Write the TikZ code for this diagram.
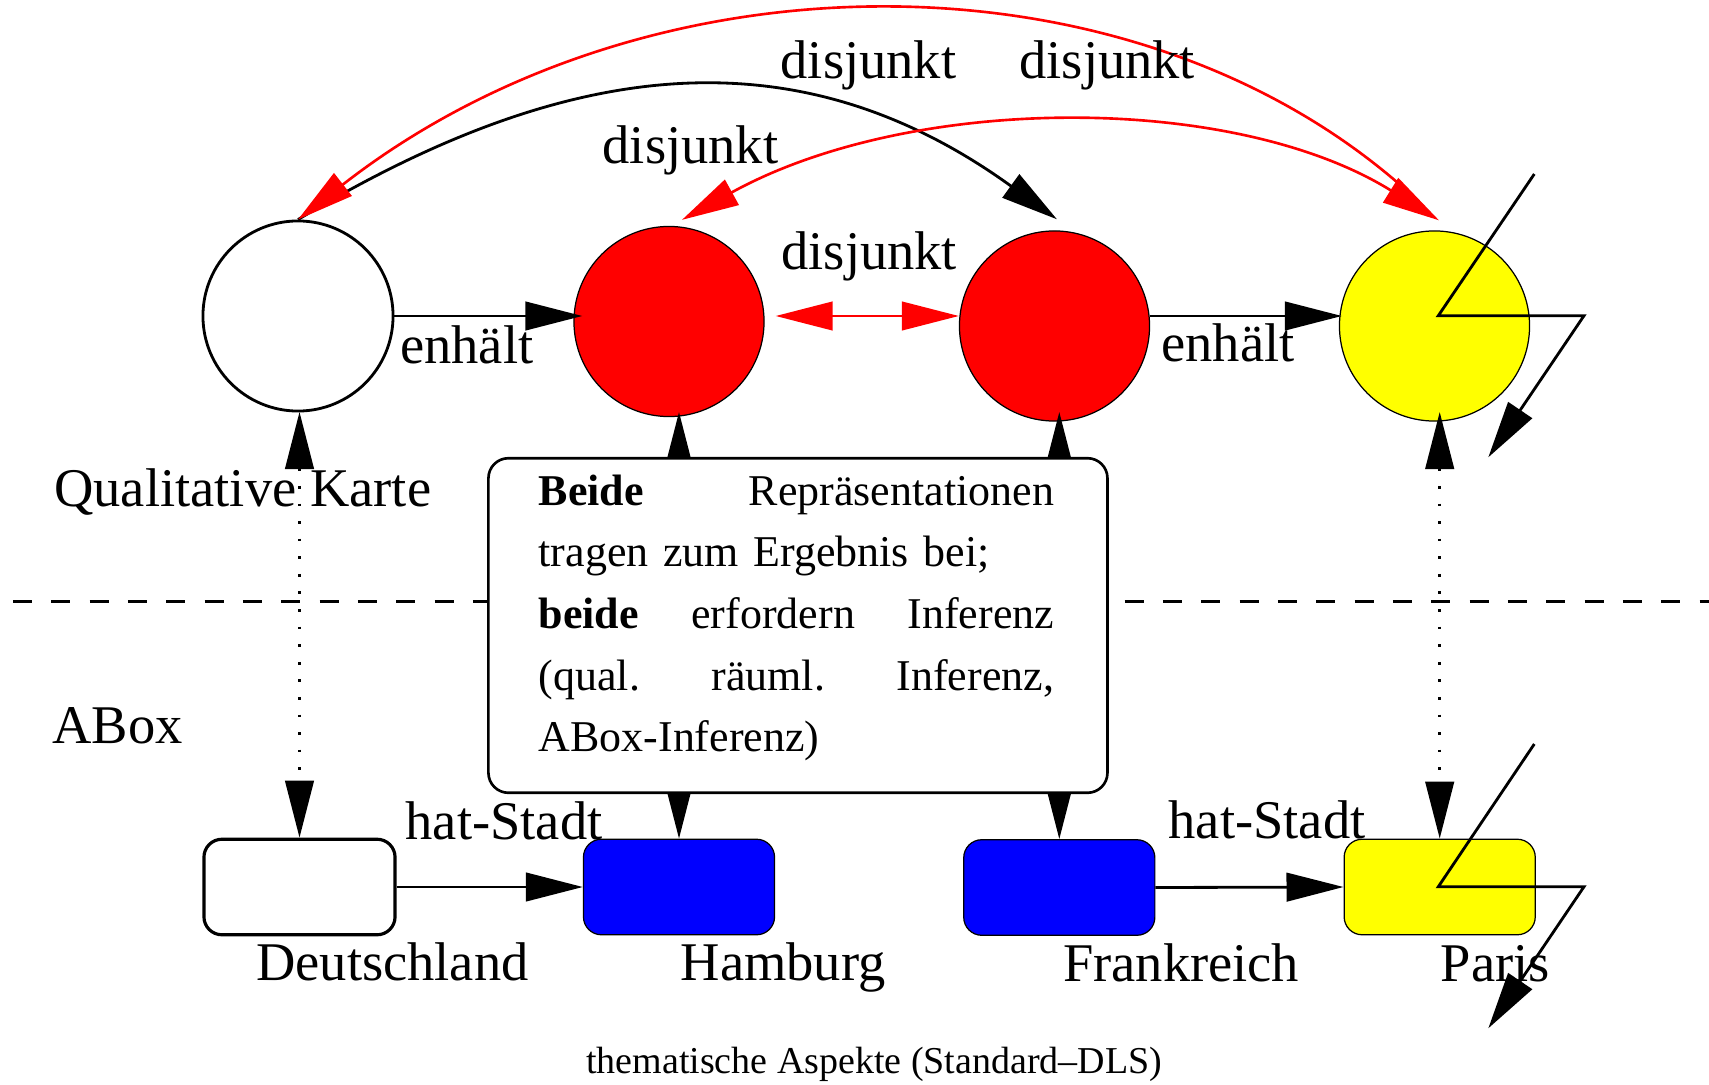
\documentclass[tikz,border=0pt]{standalone}
\usepackage{fontspec}
\setmainfont{Liberation Serif}
\usetikzlibrary{arrows.meta,calc}
\definecolor{cityyellow}{RGB}{255,255,0}
\definecolor{areared}{RGB}{255,0,0}
\definecolor{indblue}{RGB}{0,0,255}

\begin{document}
\begin{tikzpicture}[x=0.01cm,y=-0.01cm,
  >={Triangle[length=0.57cm,width=0.285cm]},
  conn/.style={line width=0.8pt},
  rconn/.style={line width=0.75pt, areared},
  corr/.style={line width=0.8pt, dash pattern=on 0.8pt off 4.2pt},
  region/.style={circle, minimum size=1.9cm, inner sep=0pt, draw=black, line width=0.35pt},
  inst/.style={rectangle, rounded corners=0.18cm, minimum width=1.91cm, minimum height=0.955cm, inner sep=0pt, draw=black, line width=0.35pt},
  lbl/.style={font=\fontsize{15.5pt}{18pt}\selectfont, inner sep=0pt, anchor=base west},
]
\useasboundingbox (0,0) rectangle (1709,1085);

% separator between the qualitative map and the ABox
\coordinate (sepL) at (13,601.7);
\coordinate (sepR) at (1709,601.7);
\draw[line width=0.75pt, dash pattern=on 5.4pt off 5.5pt] (sepL) -- (sepR);

% regions of the qualitative map
\node[region, line width=0.8pt, fill=white] (qk) at (298,316) {};
\node[region, fill=areared] (hh) at (669,321.5) {};
\node[region, fill=areared] (fr) at (1054.5,326) {};
\node[region, fill=cityyellow] (pa) at (1434.5,326) {};

% ABox individuals
\node[inst, line width=0.9pt, fill=white] (de) at (299.5,887) {};
\node[inst, fill=indblue] (hb) at (679,887) {};
\node[inst, fill=indblue] (fk) at (1059.3,887.5) {};
\node[inst, fill=cityyellow] (ps) at (1439.7,887) {};

% helper rows
\coordinate (mid) at (0,316);
\coordinate (low) at (0,412);

% contains / has-city relations
\draw[conn,->] (qk.east |- mid) -- ($(hh.west |- mid)+(9,0)$);
\draw[conn,->] (fr.east |- mid) -- ($(pa.west |- mid)+(3,0)$);
\draw[rconn,<->] ($(hh.east |- mid)+(11,0)$) -- (fr.west |- mid);
\draw[conn,->] (de.east) -- (hb.west);
\draw[conn,->] (fk.east) -- (ps.west);

% correspondences between map regions and individuals
\draw[corr,<->] (de.north |- low) -- (de.north);
\draw[conn,<->] (hb.north |- low) -- (hb.north);
\draw[conn,<->] (fk.north |- low) -- (fk.north);
\draw[corr,<->] (ps.north |- low) -- (ps.north);

% disjointness arcs
\draw[conn,->] (qk.north) .. controls (560,62) and (791,27) .. ($(fr.north)+(2.5,-11)$);
\draw[rconn,<-,shorten >=0.35cm] (qk.north) .. controls (650,-55) and (1140,-55) .. ($(pa.north)+(4.5,-10)$);
\draw[rconn,<->] ($(hh.north)+(13,-6)$) .. controls (912,93) and (1234,93) .. ($(pa.north)+(4.5,-10)$);

% explanation box
\node[draw, line width=0.75pt, fill=white, rounded corners=0.2cm, minimum width=6.187cm, minimum height=3.344cm, inner sep=0pt] (note) at (797.95,625.5) {};
\node[anchor=base west, inner sep=0pt, text width=5.15cm, align=left, font=\fontsize{12.5pt}{17.55pt}\selectfont] (notetext) at (538,505)
  {\textbf{Beide}\hfill Repräsentationen\\
   tragen zum Ergebnis bei;\\
   \textbf{beide}\hfill erfordern\hfill Inferenz\\
   (qual.\hfill räuml.\hfill Inferenz,\\
   ABox-Inferenz)};

% lightning marks
\draw[conn,->] (1534.3,174) -- (1438.3,315.7) -- (1584,315.7) -- (1488.3,457.3);
\draw[conn,->] (1534.3,744) -- (1438.3,886.7) -- (1584,886.7) -- (1488.3,1028.3);

% labels
\node[lbl] (dj1) at (780,78.3) {disjunkt};
\node[lbl] (dj2) at (1018.7,78.3) {disjunkt};
\node[lbl] (dj3) at (602,163) {disjunkt};
\node[lbl] (dj4) at (780.7,269) {disjunkt};
\node[lbl] (en1) at (399.5,363.3) {enhält};
\node[lbl] (en2) at (1160.6,361.7) {enhält};
\node[lbl] (lqk) at (53.6,506.7) {Qualitative Karte};
\node[lbl] (labox) at (51.7,743) {ABox};
\node[lbl] (hs1) at (405,839) {hat-Stadt};
\node[lbl] (hs2) at (1168,838) {hat-Stadt};
\node[lbl] (lde) at (255.5,980.7) {Deutschland};
\node[lbl] (lhb) at (680,980.7) {Hamburg};
\node[lbl] (lfk) at (1062.4,981.7) {Frankreich};
\node[lbl] (lps) at (1440,981.7) {Paris};
\node[lbl, font=\fontsize{10.8pt}{13pt}\selectfont] (cap) at (585.5,1073) {thematische Aspekte (Standard–DLS)};
\end{tikzpicture}
\end{document}
